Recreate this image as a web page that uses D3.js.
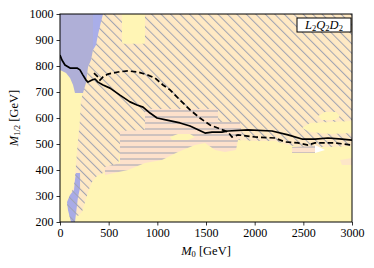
<!DOCTYPE html>
<html>
<head>
<meta charset="utf-8">
<script src="https://cdn.jsdelivr.net/npm/d3@7/dist/d3.min.js"></script>
<style>
  body { margin: 0; background: #fff; }
  text { font-family: "Liberation Serif", "DejaVu Serif", serif; }
</style>
</head>
<body>
<div id="chart"></div>
<script>
// ticks
var xTicks = [0, 500, 1000, 1500, 2000, 2500, 3000];
var yTicks = [200, 300, 400, 500, 600, 700, 800, 900, 1000];

// limit curves [M0, M1/2]
var solidLine = [[0,842],[20,823],[51,804],[103,792],[175,792],[205,785],[236,765],[267,746],[288,738],
  [329,746],[360,750],[390,738],[442,727],[514,715],[616,688],[719,662],[791,650],[853,642],[925,619],
  [997,600],[1099,592],[1233,581],[1336,569],[1490,542],[1562,546],[1664,546],[1726,550],[1932,554],
  [2178,550],[2343,535],[2486,519],[2620,519],[2753,523],[2897,519],[3000,515]];
var dashedLine = [[349,773],[390,758],[411,746],[442,758],[493,769],[596,777],[699,781],[801,777],
  [904,765],[976,754],[1058,727],[1130,708],[1233,669],[1336,631],[1438,600],[1541,573],[1644,558],
  [1726,546],[1767,527],[1829,535],[2003,527],[2209,523],[2312,508],[2445,504],[2548,496],[2620,504],
  [2723,504],[2825,504],[3000,496]];

// excluded regions [M0, M1/2]
var diagRegion = [[339,1000],[3000,1000],[3000,492],[2774,488],[2466,488],[2342,496],[2209,512],[2003,512],
  [1829,515],[1695,527],[637,527],[596,419],[462,392],[380,377],[329,354],[288,315],[257,277],[226,238],
  [185,223],[123,231],[72,265],[103,304],[144,338],[164,419],[185,515],[205,592],[216,669],[236,696],
  [267,735],[288,796],[319,823],[339,862]];
var horizRegion = [[873,635],[1623,635],[1623,585],[1849,585],[1870,535],[1829,515],[1808,477],[1695,469],
  [1593,477],[1490,504],[1387,496],[1212,469],[1048,438],[873,427],[699,400],[462,381],[462,412],
  [616,427],[616,550],[873,554]];
var horizPatch = [[2384,488],[2620,492],[2620,465],[2384,465]];
var peachPatch = [[2877,438],[3000,446],[3000,419],[2897,419]];
var whitePatch = [[2620,496],[2723,477],[2620,465]];
var yellowPatches = [
  [[637,1000],[873,1000],[873,892],[863,886],[645,886],[637,892]],
  [[1130,527],[1212,538],[1336,538],[1387,527],[1315,515],[1150,515]],
  [[2651,608],[2723,623],[2836,623],[2877,608],[2825,592],[2692,592]],
  [[2486,562],[2569,581],[2774,585],[3000,588],[3000,542],[2774,538],[2569,546]]
];
var blueRegion = [[0,1000],[339,1000],[339,862],[319,823],[288,796],[267,735],[236,696],[154,696],
  [134,727],[103,754],[62,773],[0,785]];
var blueStrip = [[339,1000],[442,1000],[421,969],[390,919],[370,881],[339,862]];
var blueLow = [[164,388],[206,388],[206,331],[185,296],[175,265],[154,200],[113,200],[82,246],
  [72,277],[103,304],[144,323],[154,362]];

var width = 374, height = 268;
var margin = {left: 60, right: 22, top: 14, bottom: 46};

var x = d3.scaleLinear().domain([0, 3000]).range([margin.left, width - margin.right]);
var y = d3.scaleLinear().domain([200, 1000]).range([height - margin.bottom, margin.top]);

var svg = d3.select("#chart")
  .append("svg")
  .attr("width", width)
  .attr("height", height);

var defs = svg.append("defs");

defs.append("clipPath")
  .attr("id", "plotClip")
  .append("rect")
  .attr("x", x(0)).attr("y", y(1000))
  .attr("width", x(3000) - x(0)).attr("height", y(200) - y(1000));

var hatchColor = "#a0a3b2";

function makeDiag(id, bg) {
  var p = defs.append("pattern")
    .attr("id", id)
    .attr("patternUnits", "userSpaceOnUse")
    .attr("width", 6.7).attr("height", 6.7)
    .attr("patternTransform", "rotate(45)");
  if (bg) p.append("rect").attr("width", 6.7).attr("height", 6.7).attr("fill", bg);
  p.append("line")
    .attr("x1", 0).attr("y1", 3.3).attr("x2", 6.7).attr("y2", 3.3)
    .attr("stroke", hatchColor).attr("stroke-width", 1);
}
makeDiag("diagFill", "#ffe9c4");
makeDiag("diagLines", null);

var hp = defs.append("pattern")
  .attr("id", "horizFill")
  .attr("patternUnits", "userSpaceOnUse")
  .attr("width", 10).attr("height", 6);
hp.append("rect").attr("width", 10).attr("height", 6).attr("fill", "#fde1cb");
hp.append("line")
  .attr("x1", 0).attr("y1", 3).attr("x2", 10).attr("y2", 3)
  .attr("stroke", hatchColor).attr("stroke-width", 1);

var area = d3.line()
  .x(function(d) { return x(d[0]); })
  .y(function(d) { return y(d[1]); });

function poly(g, data, fill) {
  return g.append("path")
    .attr("d", area(data) + "Z")
    .attr("fill", fill)
    .attr("stroke", "none");
}

var plot = svg.append("g").attr("clip-path", "url(#plotClip)");

plot.append("rect")
  .attr("x", x(0)).attr("y", y(1000))
  .attr("width", x(3000) - x(0)).attr("height", y(200) - y(1000))
  .attr("fill", "#fff5b5");

poly(plot, diagRegion, "url(#diagFill)");
poly(plot, horizRegion, "url(#horizFill)");
poly(plot, horizPatch, "url(#horizFill)");
poly(plot, peachPatch, "#fde6c8");
poly(plot, whitePatch, "#ffffff");
yellowPatches.forEach(function(p) {
  poly(plot, p, "#fff5b5");
});
poly(plot, blueRegion, "#afafd7");
poly(plot, blueStrip, "#a9aee9");
poly(plot, blueLow, "#a9abe6");
poly(plot, blueLow, "url(#diagLines)");

plot.append("path")
  .datum(solidLine)
  .attr("d", area)
  .attr("fill", "none")
  .attr("stroke", "#000")
  .attr("stroke-width", 1.7)
  .attr("stroke-linejoin", "round");

plot.append("path")
  .datum(dashedLine)
  .attr("d", area)
  .attr("fill", "none")
  .attr("stroke", "#000")
  .attr("stroke-width", 1.7)
  .attr("stroke-dasharray", "5.5,3");

// axes
var xAxis = svg.append("g")
  .attr("transform", "translate(0," + y(200) + ")")
  .call(d3.axisBottom(x).tickValues(xTicks).tickSize(3.5).tickPadding(3).tickFormat(d3.format("d")));
var yAxis = svg.append("g")
  .attr("transform", "translate(" + x(0) + ",0)")
  .call(d3.axisLeft(y).tickValues(yTicks).tickSize(3.5).tickPadding(3).tickFormat(d3.format("d")));

[xAxis, yAxis].forEach(function(a) {
  a.select(".domain").remove();
  a.selectAll("text")
    .attr("font-family", "Liberation Serif, DejaVu Serif, serif")
    .attr("font-size", 12)
    .attr("fill", "#000");
  a.selectAll("line").attr("stroke", "#000").attr("stroke-width", 0.8);
});

svg.append("rect")
  .attr("x", x(0)).attr("y", y(1000))
  .attr("width", x(3000) - x(0)).attr("height", y(200) - y(1000))
  .attr("fill", "none")
  .attr("stroke", "#000")
  .attr("stroke-width", 1);

// axis titles
var xt = svg.append("text")
  .attr("x", (x(0) + x(3000)) / 2)
  .attr("y", 255)
  .attr("text-anchor", "middle")
  .attr("font-size", 12.5);
xt.append("tspan").attr("font-style", "italic").text("M");
xt.append("tspan").attr("font-size", 8.5).attr("dy", 2).text("0");
xt.append("tspan").attr("dy", -2).text(" [GeV]");

var yt = svg.append("text")
  .attr("transform", "translate(18," + ((y(200) + y(1000)) / 2) + ") rotate(-90)")
  .attr("text-anchor", "middle")
  .attr("font-size", 12.5);
yt.append("tspan").attr("font-style", "italic").text("M");
yt.append("tspan").attr("font-size", 8.5).attr("dy", 2).text("1/2");
yt.append("tspan").attr("dy", -2).text(" [GeV]");

// model label
svg.append("rect")
  .attr("x", 297).attr("y", 18)
  .attr("width", 54).attr("height", 14)
  .attr("fill", "#fff")
  .attr("stroke", "#000")
  .attr("stroke-width", 1);

var lt = svg.append("text")
  .attr("x", 324)
  .attr("y", 29)
  .attr("text-anchor", "middle")
  .attr("font-size", 12.5);
[["L", "2"], ["Q", "2"], ["D", "2"]].forEach(function(s, i) {
  lt.append("tspan").attr("font-style", "italic").attr("dy", i ? -2 : 0).text(s[0]);
  lt.append("tspan").attr("font-size", 8.5).attr("dy", 2).text(s[1]);
});
</script>
</body>
</html>
